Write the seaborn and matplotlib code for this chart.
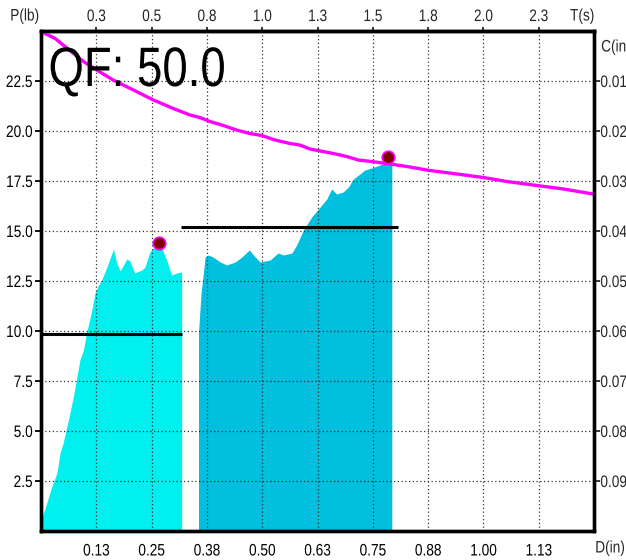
import matplotlib
matplotlib.use("Agg")
import matplotlib.pyplot as plt
from matplotlib.patheffects import AbstractPathEffect
from matplotlib.transforms import Affine2D
import numpy as np
import pandas as pd
import seaborn as sns

# ---- data -------------------------------------------------------------
# first stroke: displacement D (in) and load P (lb)
stroke1_d = [0.000, 0.002, 0.013, 0.024, 0.036, 0.043, 0.050, 0.062, 0.073, 0.088,
             0.096, 0.103, 0.115, 0.122, 0.130, 0.137, 0.149, 0.164, 0.171, 0.179,
             0.194, 0.201, 0.212, 0.228, 0.235, 0.246, 0.254, 0.273, 0.284, 0.295,
             0.307, 0.318]
stroke1_p = [0.60, 0.65, 1.40, 2.20, 2.90, 3.90, 4.40, 5.55, 6.70, 8.55,
             9.05, 9.90, 11.05, 11.90, 12.30, 12.55, 13.20, 14.10, 13.40, 13.00,
             13.60, 13.50, 12.90, 13.05, 13.20, 13.95, 14.15, 14.15, 13.55, 12.80,
             12.90, 12.95]

# second stroke
stroke2_d = [0.356, 0.359, 0.362, 0.366, 0.371, 0.378, 0.389, 0.405, 0.420, 0.439,
             0.454, 0.471, 0.480, 0.495, 0.518, 0.536, 0.548, 0.567, 0.578, 0.593,
             0.612, 0.631, 0.646, 0.657, 0.668, 0.683, 0.695, 0.706, 0.721, 0.732,
             0.747, 0.766, 0.781, 0.793]
stroke2_p = [9.90, 10.95, 11.95, 12.70, 13.70, 13.80, 13.70, 13.45, 13.30, 13.45,
             13.70, 14.05, 13.80, 13.45, 13.55, 13.90, 13.80, 13.90, 14.30, 15.05,
             15.70, 16.20, 16.60, 17.10, 16.85, 16.95, 17.20, 17.60, 17.85, 18.05,
             18.15, 18.30, 18.45, 18.45]

# average load of each stroke: (P, D start, D end)
avg_p = [9.83, 15.2]
avg_d0 = [0.000, 0.316]
avg_d1 = [0.319, 0.807]

# peak loads
peak_d = [0.267, 0.784]
peak_p = [14.4, 18.7]

# closure C (in) against displacement
closure_d = [0.000, 0.032, 0.050, 0.096, 0.126, 0.163, 0.209, 0.254, 0.299, 0.337,
             0.359, 0.382, 0.412, 0.442, 0.472, 0.499, 0.529, 0.563, 0.585, 0.608,
             0.631, 0.661, 0.691, 0.717, 0.747, 0.781, 0.827, 0.879, 0.940, 1.000,
             1.053, 1.121, 1.181, 1.248]
closure_c = [0.0001, 0.0015, 0.0028, 0.0061, 0.0078, 0.0098, 0.0118, 0.0138, 0.0155, 0.0168,
             0.0173, 0.0181, 0.0189, 0.0198, 0.0205, 0.0209, 0.0218, 0.0225, 0.0228, 0.0236,
             0.0240, 0.0245, 0.0251, 0.0258, 0.0261, 0.0265, 0.0271, 0.0279, 0.0286, 0.0293,
             0.0301, 0.0309, 0.0316, 0.0326]

# axis ticks
d_ticks = [0.125, 0.25, 0.375, 0.5, 0.625, 0.75, 0.875, 1.0, 1.125]
d_labels = ["0.13", "0.25", "0.38", "0.50", "0.63", "0.75", "0.88", "1.00", "1.13"]
t_ticks = [0.25, 0.5, 0.75, 1.0, 1.25, 1.5, 1.75, 2.0, 2.25]
t_labels = ["0.3", "0.5", "0.8", "1.0", "1.3", "1.5", "1.8", "2.0", "2.3"]
p_ticks = [2.5, 5.0, 7.5, 10.0, 12.5, 15.0, 17.5, 20.0, 22.5]
p_labels = ["2.5", "5.0", "7.5", "10.0", "12.5", "15.0", "17.5", "20.0", "22.5"]
c_ticks = [0.01, 0.02, 0.03, 0.04, 0.05, 0.06, 0.07, 0.08, 0.09]
c_labels = ["0.01", "0.02", "0.03", "0.04", "0.05", "0.06", "0.07", "0.08", "0.09"]

quality = 50.0


class Narrow(AbstractPathEffect):
    """Draw text horizontally condensed about its left, centre or right edge."""

    def __init__(self, sx=0.82, anchor="center"):
        super().__init__()
        self.sx = sx
        self.anchor = anchor

    def draw_path(self, renderer, gc, tpath, affine, rgbFace=None):
        ext = affine.transform_path(tpath).get_extents()
        if self.anchor == "left":
            x0 = ext.x0
        elif self.anchor == "right":
            x0 = ext.x1
        else:
            x0 = 0.5 * (ext.x0 + ext.x1)
        squeeze = Affine2D().translate(-x0, 0).scale(self.sx, 1).translate(x0, 0)
        renderer.draw_path(gc, tpath, affine + squeeze, rgbFace)


# ---- style ------------------------------------------------------------
sns.set_style("white")
plt.rcParams["font.family"] = ["Liberation Sans", "DejaVu Sans"]
FS = 12

fig = plt.figure(figsize=(6.26, 5.60), dpi=100)
ax = fig.add_axes([41 / 626, 1 - 531 / 560, 553 / 626, 500 / 560])

s1 = pd.DataFrame({"D": stroke1_d, "P": stroke1_p})
s2 = pd.DataFrame({"D": stroke2_d, "P": stroke2_p})
ax.fill_between(s1["D"], 0, s1["P"], color="#00EFEF", lw=0, zorder=1)
ax.fill_between(s2["D"], 0, s2["P"], color="#00BFDF", lw=0, zorder=1)

for p, d0, d1 in zip(avg_p, avg_d0, avg_d1):
    ax.plot([d0, d1], [p, p], color="black", lw=2.2, zorder=4, solid_capstyle="butt")

ax.set_xlim(0, 1.25)
ax.set_ylim(0, 25)
ax.set_xticks(d_ticks, d_labels)
ax.set_yticks(p_ticks, p_labels)
ax.set_axisbelow(False)
ax.grid(True, color="#333333", lw=0.9, linestyle=(0, (1, 2)), zorder=2.5)
ax.tick_params(axis="x", direction="out", length=5, width=1.3, pad=4,
               labelsize=FS, colors="black")
ax.tick_params(axis="y", direction="out", length=4, width=1.3, pad=2,
               labelsize=FS, colors="black")

top = ax.secondary_xaxis("top", functions=(lambda d: 2 * d, lambda t: t / 2))
top.set_xticks(t_ticks, t_labels)
top.tick_params(direction="out", length=3, width=1.3, pad=2, labelsize=FS)

# closure axis on the right, increasing downwards
ax2 = ax.twinx()
cl = pd.DataFrame({"D": closure_d, "C": closure_c})
sns.lineplot(data=cl, x="D", y="C", ax=ax2, color="#FF00FF", lw=2.4,
             sort=False, estimator=None)
ax2.set_ylim(0.1, 0.0)
ax2.set_xlim(0, 1.25)
ax2.set_yticks(c_ticks, c_labels)
ax2.set_ylabel("")
ax2.set_xlabel("")
ax2.grid(False)
ax2.tick_params(axis="y", direction="out", length=4, width=1.3, pad=0.5, labelsize=FS)

# peak markers, placed in load coordinates
ax2.plot(peak_d, peak_p, linestyle="none", marker="o", markersize=9,
         markerfacecolor="#800000", markeredgecolor="#FF00FF", markeredgewidth=1.2,
         transform=ax.transData, zorder=6, clip_on=False)

for a in (ax, ax2):
    for sp in a.spines.values():
        sp.set_color("black")
        sp.set_linewidth(2.4)
top.spines["top"].set_linewidth(2.4)

# condensed lettering for all labels
for lab in ax.get_xticklabels() + top.get_xticklabels():
    lab.set_path_effects([Narrow(anchor="center")])
for lab in ax.get_yticklabels():
    lab.set_path_effects([Narrow(anchor="right")])
for lab in ax2.get_yticklabels():
    lab.set_path_effects([Narrow(anchor="left")])

qf = fig.text(48 / 626, 1 - 86 / 560, f"QF: {quality:.1f}", fontsize=40,
              va="baseline", ha="left", color="black", zorder=7)
qf.set_path_effects([Narrow(sx=0.82, anchor="left")])

for txt, x, y in [("P(lb)", 10, 16), ("T(s)", 570, 16), ("C(in)", 601, 47), ("D(in)", 595, 548)]:
    t = fig.text(x / 626, 1 - y / 560, txt, fontsize=FS, va="center", ha="left")
    t.set_path_effects([Narrow(anchor="left")])

fig.savefig("out.png", dpi=100)
